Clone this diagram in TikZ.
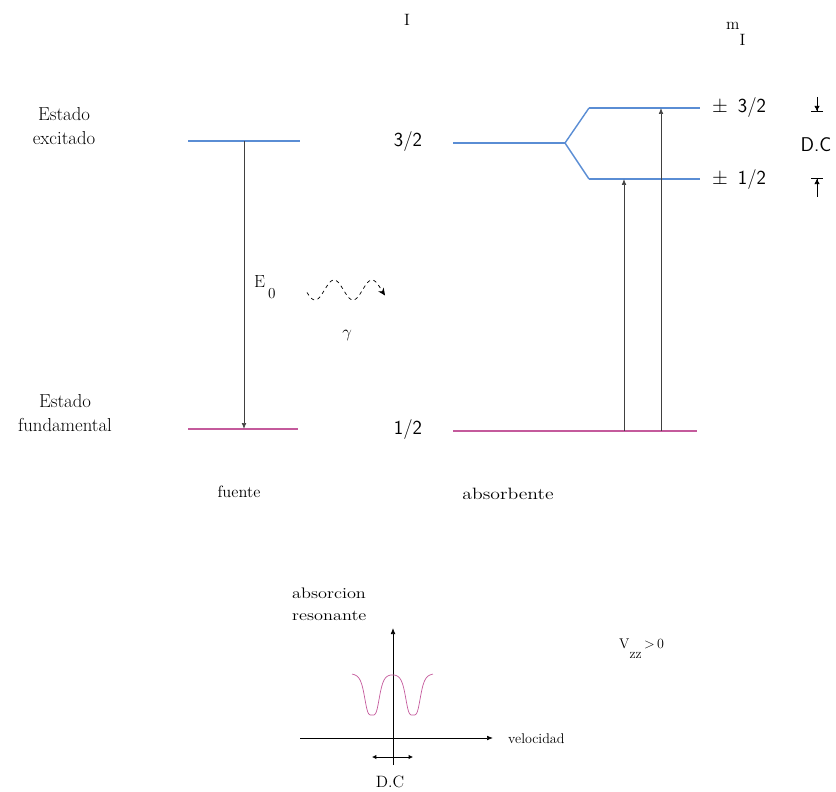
\documentclass[tikz,border=0pt]{standalone}
\usepackage{graphicx}
\usepackage{tikz}
\usetikzlibrary{arrows.meta,positioning}
\definecolor{lblue}{HTML}{5A8DD4}
\definecolor{lpink}{HTML}{C45A9C}
\newcommand{\widetxt}[1]{\scalebox{1.2}[1]{#1}}

\begin{document}
\begin{tikzpicture}[
    x=0.03cm, y=-0.03cm,
    lvl/.style={line width=2pt},
    exclvl/.style={lvl, draw=lblue},
    gndlvl/.style={lvl, draw=lpink},
    trans/.style={-{Latex[length=1.8mm, width=1.4mm]}, draw=black!75, line width=0.6pt},
    txt/.style={font=\fontsize{14}{20}\selectfont, inner sep=0pt},
    bigtxt/.style={font=\fontsize{16}{20}\selectfont, inner sep=0pt, align=center},
    spaced/.style={font=\fontsize{13}{19}\selectfont, inner sep=0pt},
    sftxt/.style={font=\sffamily\fontsize{17}{19}\selectfont, inner sep=0pt},
    smalltxt/.style={font=\fontsize{12}{14}\selectfont, inner sep=0pt},
    dcmark/.style={-{Latex[length=1.6mm, width=1.6mm]Bar[width=3.6mm]}, line width=0.6pt},
    axis/.style={-{Latex[length=1.8mm, width=1.4mm]}, line width=0.6pt},
]
\useasboundingbox (0,0) rectangle (836,792);

% Column headers
\node[txt] (spinI) at (407,20) {I};
\node[txt, anchor=base west] (mI) at (726,30) {m\raisebox{-13pt}{I}};

% Source: emitting nucleus
\node[bigtxt] (excLbl) at (64,126) {Estado\\excitado};
\node[bigtxt] (gndLbl) at (65,413) {Estado\\fundamental};
\coordinate (srcE1) at (188,141);
\coordinate (srcE2) at (300,141);
\coordinate (srcG1) at (188,429);
\coordinate (srcG2) at (298,429);
\draw[exclvl] (srcE1) -- (srcE2);
\draw[gndlvl] (srcG1) -- (srcG2);

% Gamma emission E_0
\coordinate (emTop) at (244,141);
\coordinate (emBot) at (244,429);
\draw[trans] (emTop) -- (emBot);
\node[txt, font=\fontsize{15}{18}\selectfont, anchor=base west] (E0) at (254,288)
    {E\,\raisebox{-9pt}{\fontsize{13}{15}\selectfont 0}};
\draw[dashed, line width=0.6pt, -{Stealth[length=2.2mm, width=2mm]}]
    plot[domain=307:385, samples=60] (\x, {290+10*cos((\x-315)/38*360)});
\node[txt] (gamma) at (347,336) {$\gamma$};
\node[txt] (srcLbl) at (239,492) {fuente};

% Absorber: quadrupole splitting of the 3/2 level
\node[sftxt] (spinHi) at (408,142) {3/2};
\node[sftxt] (spinLo) at (408,430) {1/2};
\coordinate (absE0) at (453,143);
\coordinate (absSp) at (565,143);
\coordinate (absHi1) at (589,108);
\coordinate (absHi2) at (700,108);
\coordinate (absLo1) at (589,179);
\coordinate (absLo2) at (700,179);
\draw[exclvl] (absE0) -- (absSp);
\draw[exclvl, line width=1.2pt] (absSp) -- (absHi1);
\draw[exclvl, line width=1.2pt] (absSp) -- (absLo1);
\draw[exclvl] (absHi1) -- (absHi2);
\draw[exclvl] (absLo1) -- (absLo2);
\coordinate (absG1) at (453,431);
\coordinate (absG2) at (697,431);
\draw[gndlvl] (absG1) -- (absG2);

% Absorption lines
\coordinate (abLoBot) at (624,431);
\coordinate (abLoTop) at (624,179);
\coordinate (abHiBot) at (661,431);
\coordinate (abHiTop) at (661,108);
\draw[trans] (abLoBot) -- (abLoTop);
\draw[trans] (abHiBot) -- (abHiTop);
\node[txt] (absLbl) at (508,494) {\widetxt{absorbente}};

% m_I values and splitting marker
\node[sftxt, anchor=west] (mHi) at (712,108) {$\pm$\enspace 3/2};
\node[sftxt, anchor=west] (mLo) at (712,180) {$\pm$\enspace 1/2};
\coordinate (dcTopA) at (817,97);
\coordinate (dcTopB) at (817,112);
\coordinate (dcBotA) at (817,197);
\coordinate (dcBotB) at (817,178);
\draw[dcmark] (dcTopA) -- (dcTopB);
\draw[dcmark] (dcBotA) -- (dcBotB);
\node[sftxt] (dcR) at (816,145) {D.C};

% Spectrum
\coordinate (haxL) at (300,738);
\coordinate (haxR) at (493,738);
\coordinate (vaxB) at (393,765);
\coordinate (vaxT) at (393,628);
\draw[axis] (haxL) -- (haxR);
\draw[axis] (vaxB) -- (vaxT);
\draw[lpink, line width=0.6pt]
    plot[domain=352:433, samples=120]
    (\x, {673+42*(1/(1+((\x-372)/8)^4)+1/(1+((\x-413)/8)^4))});
\coordinate (dcL) at (372,757);
\coordinate (dcRr) at (413,757);
\draw[{Latex[length=1.3mm, width=1.3mm]}-{Latex[length=1.3mm, width=1.3mm]}, line width=0.6pt] (dcL) -- (dcRr);
\node[txt] (dcB) at (390,782) {D.C};
\node[spaced, align=left, anchor=west] (yLbl) at (292,604) {\widetxt{absorcion}\\\widetxt{resonante}};
\node[smalltxt, anchor=west] (xLbl) at (508,739) {velocidad};
\node[smalltxt, anchor=base west] (vzz) at (619,648) {V\raisebox{-9pt}{zz}\,$>$\,0};

\end{tikzpicture}
\end{document}
